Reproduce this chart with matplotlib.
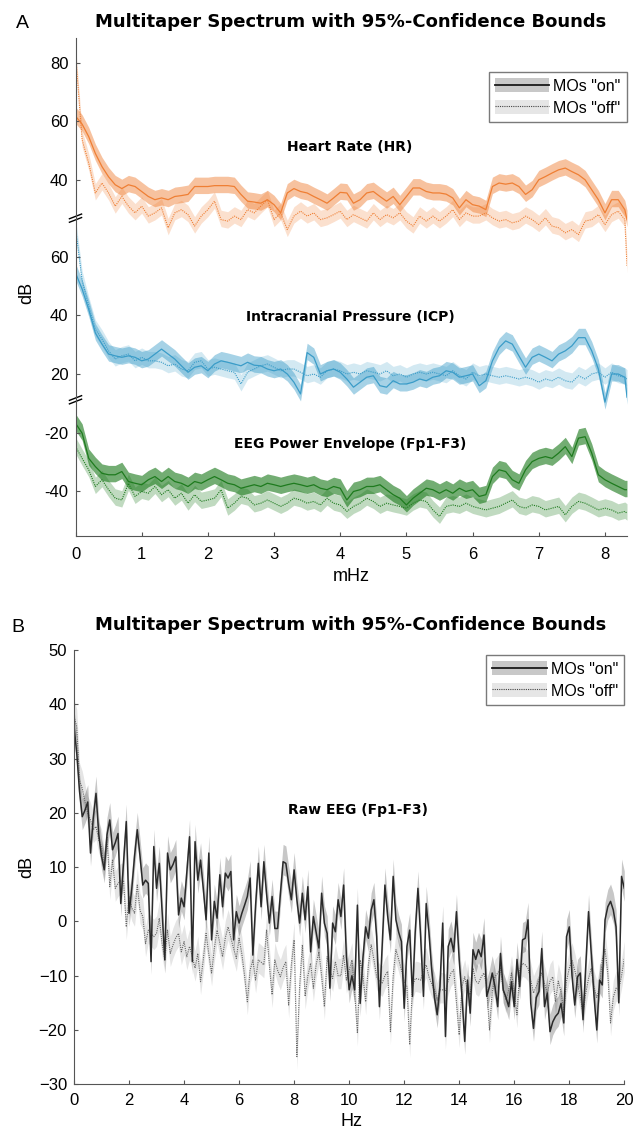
import numpy as np
import matplotlib
matplotlib.use('Agg')
import matplotlib.pyplot as plt
from matplotlib.patches import Patch
from matplotlib.lines import Line2D

plt.rcParams['font.family'] = ['Liberation Sans', 'DejaVu Sans']

# ---------------- panel A data (mHz, dB) ----------------
freq_a = np.append(np.arange(84) * 0.1, 8.333)

hr_on = [61.7, 59, 54.7, 49, 44.5, 41, 38.3, 37, 38.3, 37.7,
         36, 34.3, 33.2, 33.8, 33.2, 34.3, 34.6, 35, 37.7, 37.7,
         37.7, 38, 38, 38, 37.7, 35, 32.7, 32.4, 32, 33.2,
         31.5, 28.7, 35.5, 37, 36, 35.5, 34.3, 33.2, 32, 33.8,
         35.7, 35.5, 32, 33.2, 35.5, 36, 34.3, 32.7, 34.3, 31.5,
         34.3, 37.2, 37.2, 36, 35.5, 35.5, 35.1, 33.8, 30.4, 33.2,
         31.5, 31, 29.8, 37.7, 38.9, 38.5, 38.9, 37.7, 35, 36.6,
         40, 41.1, 42.3, 43.4, 44, 42.8, 41.7, 40, 36.6, 33.2,
         28.7, 33.2, 33.2, 29.8, 26.4]
hr_off = [83, 53.6, 45.7, 35.5, 38.9, 35.5, 31, 34.3, 31, 28.7,
          31, 27.6, 28.7, 30.4, 23.6, 28.7, 29.8, 28.1, 24.2, 27.6,
          29.8, 32.7, 26.4, 25.9, 27.6, 26.4, 29.8, 28.7, 31, 33.2,
          26.4, 28.7, 23, 27.6, 29.3, 27.6, 28.7, 26.4, 27, 28.1,
          29.3, 26.4, 28.1, 27, 25.9, 28.7, 26.4, 28.1, 27, 28.7,
          25.9, 24.2, 27.6, 25.9, 27.6, 25.9, 27.6, 29.8, 26.4, 28.7,
          27.6, 27.6, 28.7, 27, 25.9, 26.4, 25.3, 25.9, 27.6, 26.4,
          24.7, 27, 24.2, 23.6, 21.9, 23, 21.3, 25.9, 26.4, 28.1,
          24.7, 28.1, 29.3, 26.4, 10.6]

icp_on = [54.5, 49, 42, 34, 30.2, 26.8, 26.2, 25.7, 26.2, 25.7,
          24.5, 25.1, 26.8, 28.5, 26.8, 25.1, 22.8, 20.6, 22.3, 22.8,
          21.1, 23.4, 24.5, 24, 23.4, 22.8, 24, 23, 22.8, 21.7,
          21.1, 21.7, 20, 17.2, 13.2, 27.3, 25.7, 20, 21.1, 21.7,
          20.6, 18.3, 15.5, 17.2, 18.9, 19.4, 16, 15.5, 17.7, 16.6,
          16.6, 17.2, 18.3, 17.7, 18.9, 19.4, 21.1, 20.6, 18.9, 19.4,
          20, 16, 17.7, 24.5, 29, 31.3, 30.2, 26.2, 22.3, 25.7,
          26.8, 25.7, 24.5, 26.8, 27.9, 29.6, 32.4, 32.4, 27.9, 21.7,
          10.4, 20, 20, 18.9, 12.1]
icp_off = [70, 52, 43.2, 35.3, 31.9, 27.9, 25.1, 26.2, 26.8, 24.5,
           25.7, 24.5, 24.5, 24, 22.8, 23.4, 21.7, 21.1, 24, 24.5,
           21.7, 22.3, 21.7, 21.1, 20.6, 16.6, 20.6, 21.7, 22.8, 23.4,
           22.3, 21.1, 21.7, 21.7, 20.6, 19.4, 20, 18.9, 21.1, 21.7,
           21.1, 20, 20.6, 20, 21.1, 20.6, 20, 21.1, 19.4, 20,
           18.9, 20, 20.6, 20, 20.6, 20, 19.4, 21.1, 19.4, 18.3,
           20.6, 19.4, 20, 19.4, 18.9, 19.4, 18.9, 18.3, 18.9, 18.3,
           17.2, 18.3, 17.7, 18.9, 17.7, 17.2, 19.4, 18.3, 20, 20.6,
           18.9, 20.6, 19.4, 18.9, 18.3]

eeg_on = [-16.8, -20.2, -28.8, -31.6, -33.9, -34.4, -34.4, -33.3, -36.7, -37.3,
          -37.8, -36.1, -35, -36.7, -35, -36.7, -37.3, -38.4, -36.7, -37.3,
          -36.1, -35, -36.1, -37.3, -37.8, -39, -38.4, -37.8, -38.4, -37.3,
          -37.8, -38.4, -37.8, -37.3, -37.8, -38.4, -37.8, -39, -39.5, -38.4,
          -39, -43, -40.1, -39.5, -38.4, -38.4, -37.8, -39.5, -41.2, -42.4,
          -44.7, -42.4, -40.7, -39, -39.5, -40.7, -39.5, -40.7, -39, -40.1,
          -39.5, -41.8, -41.2, -35, -32.7, -33.3, -36.1, -37.3, -32.7, -29.9,
          -28.8, -28.2, -28.8, -27, -24.8, -28.2, -21.9, -21.4, -27, -34.4,
          -36.1, -37.3, -38.4, -39.5, -39.5]
eeg_off = [-24.8, -28.8, -32.7, -38.4, -36.1, -39.5, -42.4, -43, -37.3, -41.8,
           -40.1, -40.7, -38.4, -41.2, -39.5, -42.4, -40.7, -44.1, -41.2, -43.5,
           -43, -42.4, -39.5, -45.8, -44.1, -41.8, -42.4, -44.7, -44.1, -43,
           -44.1, -45.2, -44.1, -42.4, -43, -44.1, -43.5, -44.7, -42.4, -44.1,
           -44.7, -46.9, -45.2, -44.1, -42.4, -43.5, -45.2, -44.1, -44.7, -45.2,
           -45.8, -44.1, -43, -43.5, -46.4, -48.6, -45.2, -44.7, -45.2, -44.1,
           -45.2, -45.8, -46.4, -45.8, -45.2, -44.1, -43, -45.2, -45.8, -44.7,
           -45.2, -46.4, -45.8, -45.2, -48.1, -45.2, -43.5, -44.1, -45.2, -46.4,
           -45.8, -46.4, -47.5, -46.9, -47.5]

# ---------------- panel B data (Hz, dB) ----------------
freq_b = np.arange(201) * 0.1

raw_on = [36, 31, 24, 19.3, 20.5, 22, 12.6, 19, 23.6, 16,
          12, 9.5, 16, 18.7, 13.2, 14.5, 16.2, 3.3, 11, 18.4,
          1.5, 6, 12, 16.9, 12, 6.7, 7.6, 7, -7.4, 13.8,
          6.1, 10.7, 2, -7.1, 12.6, 9.5, 10.5, 11.9, 1.2, 4.3,
          2.7, 9, 15.6, -7.4, 14.7, 7.6, 11.3, 6, 0.3, 12.6,
          -3.4, 3.7, 0.6, 8.6, 2.7, 8.9, 8, 9.2, -3.4, 1.8,
          -0.3, 1.5, 3, 4.6, 8, -6.2, 3, 10.7, 2.7, 11,
          5, -0.3, 4.6, -1.3, -1.3, 5, 11, 10.7, 7, 4,
          9.5, 4, -0.3, 5.2, 0.3, 6.4, -5.6, 0.9, -2, -4.9,
          5.2, -0.3, -2.2, -12.3, -0.3, -1.9, 4, 0.9, 6.7, -6.5,
          -12.6, -10, -12.6, 3, -15.1, -6.8, -1, -3.1, 2.1, 4,
          -2.8, -15.7, -4.6, 6.7, 1, -3.4, 8.3, 0.3, -2, -3.7,
          -16, -4.6, -1.6, -13.8, -2, 6.1, -3, -13.8, 3.3, -2,
          -8.9, -14, -17.2, -12, -0.3, -21.2, -4.6, -3.1, -5.6, 1.8,
          -7.1, -13.8, -22.1, -10.8, -16.9, -5.2, -7, -5.2, -6.5, -2.5,
          -13.8, -12, -9.5, -12, -15.7, -5.9, -12.6, -14, -15.7, -11.1,
          -15.7, -7, -12, -3.4, -3.1, 0.3, -15.1, -19.7, -14, -12.9,
          -5, -15.7, -13.2, -20.3, -18.5, -17.5, -16.9, -15.1, -18.7, -2.8,
          -1, -10, -15.4, -10.2, -9.5, -18.1, -8, 1.8, -6, -13.8,
          -20, -10.8, -11.7, 0.3, 2.7, 3.7, 2.1, -1, -15, 8.3,
          6.1]
raw_off = [37.7, 35.9, 26, 24.5, 22, 19.9, 18.7, 16.9, 17.5, 15,
           13.8, 10.1, 15.6, 6.4, 11.3, 6.1, 7, 7.5, 7.6, -1,
           4.6, 2.5, 1.5, 6.7, 2, 0.9, -4.1, -1.6, -2.2, -2.8,
           -2.2, 0.6, -4, -7.1, -1.6, -5.9, -4.3, -3, -2.2, -5.6,
           -3.7, -6.5, -4.6, -6.5, -8.6, -5.9, -11.1, -7, -2.2, -6,
           -9.5, -5, -1.6, -4, -6.5, -3, -1, -3, -5, -6.8,
           -3.1, -6, -10, -14.8, -9, -7.1, -10.8, -7.1, -7.5, -8,
           -1.6, -8, -13.5, -7.1, -9, -10.2, -8.5, -7.4, -15.4, -8,
           -3.4, -24.9, -12, -4.3, -13.8, -10, -7.7, -12.3, -8, -5.6,
           -10, -15.7, -6.5, -9, -10.5, -7.4, -10, -10, -6.2, -10.8,
           -9, -7.1, -13, -20.6, -7.1, -10, -14.8, -8, -4.3, -7,
           -10.2, -11, -11.4, -10, -9.2, -20.3, -10, -5.2, -7, -8.9,
           -11, -12, -22.7, -12, -10.5, -10.6, -10.8, -9, -8, -10.2,
           -11.5, -12.6, -14.5, -12.6, -12.6, -12.9, -11, -9.5, -8.9, -15,
           -20.9, -12, -10.2, -13, -13.5, -8.6, -11, -11.4, -10.2, -9.5,
           -12, -20, -13, -10.2, -9.5, -8.6, -12.6, -14.5, -12.6, -9.5,
           -13, -17.2, -8.9, -7.7, -8, -8.6, -10.8, -13.2, -12, -10.8,
           -9.5, -11.4, -13.2, -11, -10.2, -14.8, -11, -13, -16.6, -11,
           -8.6, -7.1, -9, -11.4, -14, -16.9, -13.2, -10.5, -8.6, -12.3,
           -14, -12, -7, -5.2, -9.5, -18.7, -14, -12.3, -12.5, -10,
           -6.8]

# confidence half widths (dB, below / above the estimate)
ci_lo = 2.4
ci_hi = 3.2

# vertical stacking of the three spectra in panel A
signals_a = [
    ('Heart Rate (HR)', hr_on, hr_off, 26.3, '#ef7f34', 0.47, 0.24, [40, 60, 80]),
    ('Intracranial Pressure (ICP)', icp_on, icp_off, -20.0, '#3a9cc8', 0.45, 0.22, [20, 40, 60]),
    ('EEG Power Envelope (Fp1-F3)', eeg_on, eeg_off, 0.0, '#1e7b1e', 0.62, 0.28, [-40, -20]),
]

W, H = 634, 1133
fig = plt.figure(figsize=(W / 100, H / 100), dpi=100)


def px_rect(x0, x1, y0, y1):
    return [x0 / W, 1 - y1 / H, (x1 - x0) / W, (y1 - y0) / H]


def style_axes(ax, xpad):
    for s in ('top', 'right'):
        ax.spines[s].set_visible(False)
    for s in ('left', 'bottom'):
        ax.spines[s].set_color('#555555')
        ax.spines[s].set_linewidth(0.8)
    ax.tick_params(direction='in', length=3, width=0.8, colors='#555555',
                   labelcolor='black', labelsize=12)
    ax.tick_params(axis='y', pad=5)
    ax.tick_params(axis='x', pad=xpad)


def add_legend(ax, top_frac):
    h_on = (Patch(facecolor='#c8c8c8', edgecolor='none'),
            Line2D([], [], color='#1a1a1a', lw=1.3))
    h_off = (Patch(facecolor='#e6e6e6', edgecolor='none'),
             Line2D([], [], color='#444444', lw=0.8, ls=(0, (1, 1))))
    leg = ax.legend([h_on, h_off], ['MOs "on"', 'MOs "off"'], loc='upper right',
                    bbox_to_anchor=(1, top_frac), borderaxespad=0, fontsize=11.5,
                    handlelength=3.4, handleheight=0.95, handletextpad=0.25,
                    borderpad=0.4, labelspacing=0.4, fancybox=False, framealpha=1)
    leg.get_frame().set_edgecolor('#7a7a7a')
    leg.get_frame().set_linewidth(1.0)


# ---------------- panel A ----------------
ax_a = fig.add_axes(px_rect(75.5, 627, 37.7, 536))
yticks, ylabels = [], []
for name, on, off, shift, col, a_on, a_off, tks in signals_a:
    on = np.array(on) + shift
    off = np.array(off) + shift
    ax_a.fill_between(freq_a, off - ci_lo, off + ci_hi, color=col, alpha=a_off, lw=0)
    ax_a.fill_between(freq_a, on - ci_lo, on + ci_hi, color=col, alpha=a_on, lw=0)
    ax_a.plot(freq_a, off, color=col, lw=0.8, ls=(0, (1, 1)))
    ax_a.plot(freq_a, on, color=col, lw=0.9)
    for t in tks:
        yticks.append(t + shift)
        ylabels.append(str(t))

ax_a.set_xlim(0, 8.333)
ax_a.set_ylim(-55.3, 114.8)
ax_a.set_xticks(range(9))
ax_a.set_yticks(yticks)
ax_a.set_yticklabels(ylabels)
style_axes(ax_a, 8)
add_legend(ax_a, 1 - 34.3 / 498.3)

# axis break marks
ytr = ax_a.get_yaxis_transform()
for yb in (53.2, -8.8):
    for d in (-0.6, 0.6):
        ax_a.plot([-0.011, 0.011], [yb + d - 0.8, yb + d + 0.8], color='k', lw=1.0,
                  transform=ytr, clip_on=False)

# ---------------- panel B ----------------
ax_b = fig.add_axes(px_rect(74, 624.3, 650, 1084.3))
on = np.array(raw_on)
off = np.array(raw_off)
ax_b.fill_between(freq_b, off - ci_lo, off + ci_hi, color='k', alpha=0.1, lw=0)
ax_b.fill_between(freq_b, on - ci_lo, on + ci_hi, color='k', alpha=0.22, lw=0)
ax_b.plot(freq_b, off, color='#666666', lw=0.8, ls=(0, (1, 1)))
ax_b.plot(freq_b, on, color='#2a2a2a', lw=1.1)
ax_b.set_xlim(0, 20)
ax_b.set_ylim(-30, 50)
ax_b.set_xticks(range(0, 21, 2))
ax_b.set_yticks(range(-30, 51, 10))
style_axes(ax_b, 6.5)
add_legend(ax_b, 1 - 5 / 434.3)


# ---------------- texts ----------------
def ftext(x, y, s, **kw):
    fig.text(x / W, 1 - y / H, s, ha='center', va='center', **kw)


bold = dict(family='DejaVu Sans', weight='bold')
ftext(351, 21.7, 'Multitaper Spectrum with 95%-Confidence Bounds', fontsize=13, **bold)
ftext(351, 625, 'Multitaper Spectrum with 95%-Confidence Bounds', fontsize=13, **bold)
ftext(22, 23, 'A', fontsize=14)
ftext(18, 627, 'B', fontsize=14)
ftext(26.5, 293, 'dB', fontsize=13, rotation=90)
ftext(26.5, 867, 'dB', fontsize=13, rotation=90)
ftext(351, 577, 'mHz', fontsize=13)
ftext(351, 1121, 'Hz', fontsize=13)

ftext(350, 147.3, signals_a[0][0], fontsize=10, **bold)
ftext(350.5, 317.3, signals_a[1][0], fontsize=10, **bold)
ftext(350.5, 444.3, signals_a[2][0], fontsize=10, **bold)
ftext(358.3, 810, 'Raw EEG (Fp1-F3)', fontsize=10, **bold)

fig.savefig('out.png', dpi=100)
